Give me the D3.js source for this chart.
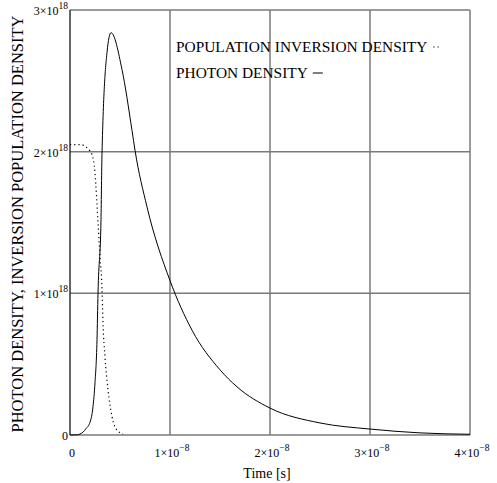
<!DOCTYPE html>
<html>
<head>
<meta charset="utf-8">
<script src="https://cdn.jsdelivr.net/npm/d3@7"></script>
<style>
  body { margin: 0; background: #fff; }
  text { font-family: "Liberation Serif", "DejaVu Serif", serif; fill: #000; }
</style>
</head>
<body>
<svg id="main"></svg>
<script>
// time in seconds
var photonT = [0, 0.7e-9, 1.0e-9, 1.3e-9, 1.6e-9, 2.0e-9, 2.3e-9, 2.5e-9, 2.7e-9, 2.8e-9, 3.1e-9, 3.2e-9, 3.7e-9, 4.1e-9, 5.2e-9, 6.2e-9, 6.5e-9, 7.7e-9, 1.0e-8, 1.22e-8, 1.5e-8, 1.67e-8, 2.0e-8, 2.5e-8, 3.0e-8, 3.5e-8, 4.0e-8];
var photonN = [0, 0.001e18, 0.007e18, 0.02e18, 0.045e18, 0.09e18, 0.20e18, 0.37e18, 0.67e18, 1.0e18, 1.52e18, 1.99e18, 2.70e18, 2.84e18, 2.58e18, 2.15e18, 2.01e18, 1.61e18, 1.09e18, 0.74e18, 0.46e18, 0.34e18, 0.19e18, 0.085e18, 0.042e18, 0.015e18, 0.005e18];

var invT = [0, 1.0e-9, 1.5e-9, 1.8e-9, 2.2e-9, 2.5e-9, 2.8e-9, 3.0e-9, 3.2e-9, 3.3e-9, 3.5e-9, 3.8e-9, 4.2e-9, 4.7e-9, 5.3e-9];
var invN = [2.05e18, 2.05e18, 2.04e18, 2.02e18, 1.98e18, 1.85e18, 1.50e18, 1.26e18, 1.03e18, 0.79e18, 0.55e18, 0.32e18, 0.13e18, 0.035e18, 0.007e18];

var xTicks = [0, 1e-8, 2e-8, 3e-8, 4e-8];
var xTickMant = ["0", "1×10", "2×10", "3×10", "4×10"];
var xTickExp = ["", "−8", "−8", "−8", "−8"];
var yTicks = [0, 1e18, 2e18, 3e18];
var yTickMant = ["0", "1×10", "2×10", "3×10"];
var yTickExp = ["", "18", "18", "18"];

var legendLabels = ["POPULATION INVERSION DENSITY", "PHOTON DENSITY"];

var w = 497;
var h = 483;
var padLeft = 70, padRight = 470, padTop = 10, padBottom = 435;

var svg = d3.select("#main")
  .attr("width", w)
  .attr("height", h);

var x = d3.scaleLinear().domain([0, 4e-8]).range([padLeft, padRight]);
var y = d3.scaleLinear().domain([0, 3e18]).range([padBottom, padTop]);

// grid
svg.selectAll(".vgrid")
  .data(xTicks.slice(1))
  .enter()
  .append("line")
  .attr("x1", function(d) { return x(d); })
  .attr("x2", function(d) { return x(d); })
  .attr("y1", padTop)
  .attr("y2", padBottom)
  .attr("stroke", "#7a7a7a")
  .attr("stroke-width", 1.5);

svg.selectAll(".hgrid")
  .data(yTicks)
  .enter()
  .append("line")
  .attr("x1", padLeft)
  .attr("x2", padRight)
  .attr("y1", function(d) { return y(d); })
  .attr("y2", function(d) { return y(d); })
  .attr("stroke", "#7a7a7a")
  .attr("stroke-width", 1.5);

// left axis line
svg.append("line")
  .attr("x1", padLeft).attr("x2", padLeft)
  .attr("y1", padTop).attr("y2", padBottom)
  .attr("stroke", "#000")
  .attr("stroke-width", 1.2);

// curves
var line = d3.line()
  .x(function(d) { return x(d[0]); })
  .y(function(d) { return y(d[1]); })
  .curve(d3.curveMonotoneX);

svg.append("path")
  .datum(invT.map(function(t, i) { return [t, invN[i]]; }))
  .attr("d", line)
  .attr("fill", "none")
  .attr("stroke", "#000")
  .attr("stroke-width", 1.2)
  .attr("stroke-dasharray", "1.2,3");

svg.append("path")
  .datum(photonT.map(function(t, i) { return [t, photonN[i]]; }))
  .attr("d", line)
  .attr("fill", "none")
  .attr("stroke", "#000")
  .attr("stroke-width", 1);

// y tick labels
var yl = svg.selectAll(".ylab")
  .data(yTicks)
  .enter()
  .append("text")
  .attr("x", padLeft - 2)
  .attr("y", function(d) { return y(d) + 5; })
  .attr("text-anchor", "end")
  .style("font-size", "12px");
yl.append("tspan").text(function(d, i) { return yTickMant[i]; });
yl.append("tspan")
  .attr("dy", -6)
  .style("font-size", "9.5px")
  .text(function(d, i) { return yTickExp[i]; });

// x tick labels
var xl = svg.selectAll(".xlab")
  .data(xTicks)
  .enter()
  .append("text")
  .attr("x", function(d) { return x(d) + 2; })
  .attr("y", padBottom + 22)
  .attr("text-anchor", "middle")
  .style("font-size", "12px");
xl.append("tspan").text(function(d, i) { return xTickMant[i]; });
xl.append("tspan")
  .attr("dy", -6)
  .style("font-size", "9.5px")
  .text(function(d, i) { return xTickExp[i]; });

// axis titles
svg.append("text")
  .attr("x", 267)
  .attr("y", 478)
  .attr("text-anchor", "middle")
  .style("font-size", "14px")
  .text("Time [s]");

svg.append("text")
  .attr("transform", "translate(23," + 224 + ") rotate(-90)")
  .attr("text-anchor", "middle")
  .style("font-size", "16.5px")
  .text("PHOTON DENSITY, INVERSION POPULATION DENSITY");

// legend
var lg = svg.selectAll(".leg")
  .data(legendLabels)
  .enter()
  .append("text")
  .attr("x", 176)
  .attr("y", function(d, i) { return 52 + i * 26; })
  .style("font-size", "15.4px")
  .text(function(d) { return d; });

lg.each(function(d, i) {
  var len = this.getComputedTextLength();
  var ly = 52 + i * 26 - 5;
  if (i === 0) {
    svg.append("line")
      .attr("x1", 176 + len + 6).attr("x2", 176 + len + 14)
      .attr("y1", ly).attr("y2", ly)
      .attr("stroke", "#000")
      .attr("stroke-width", 1.2)
      .attr("stroke-dasharray", "1.2,3");
  } else {
    svg.append("line")
      .attr("x1", 176 + len + 5).attr("x2", 176 + len + 15)
      .attr("y1", ly).attr("y2", ly)
      .attr("stroke", "#000")
      .attr("stroke-width", 1);
  }
});
</script>
</body>
</html>
